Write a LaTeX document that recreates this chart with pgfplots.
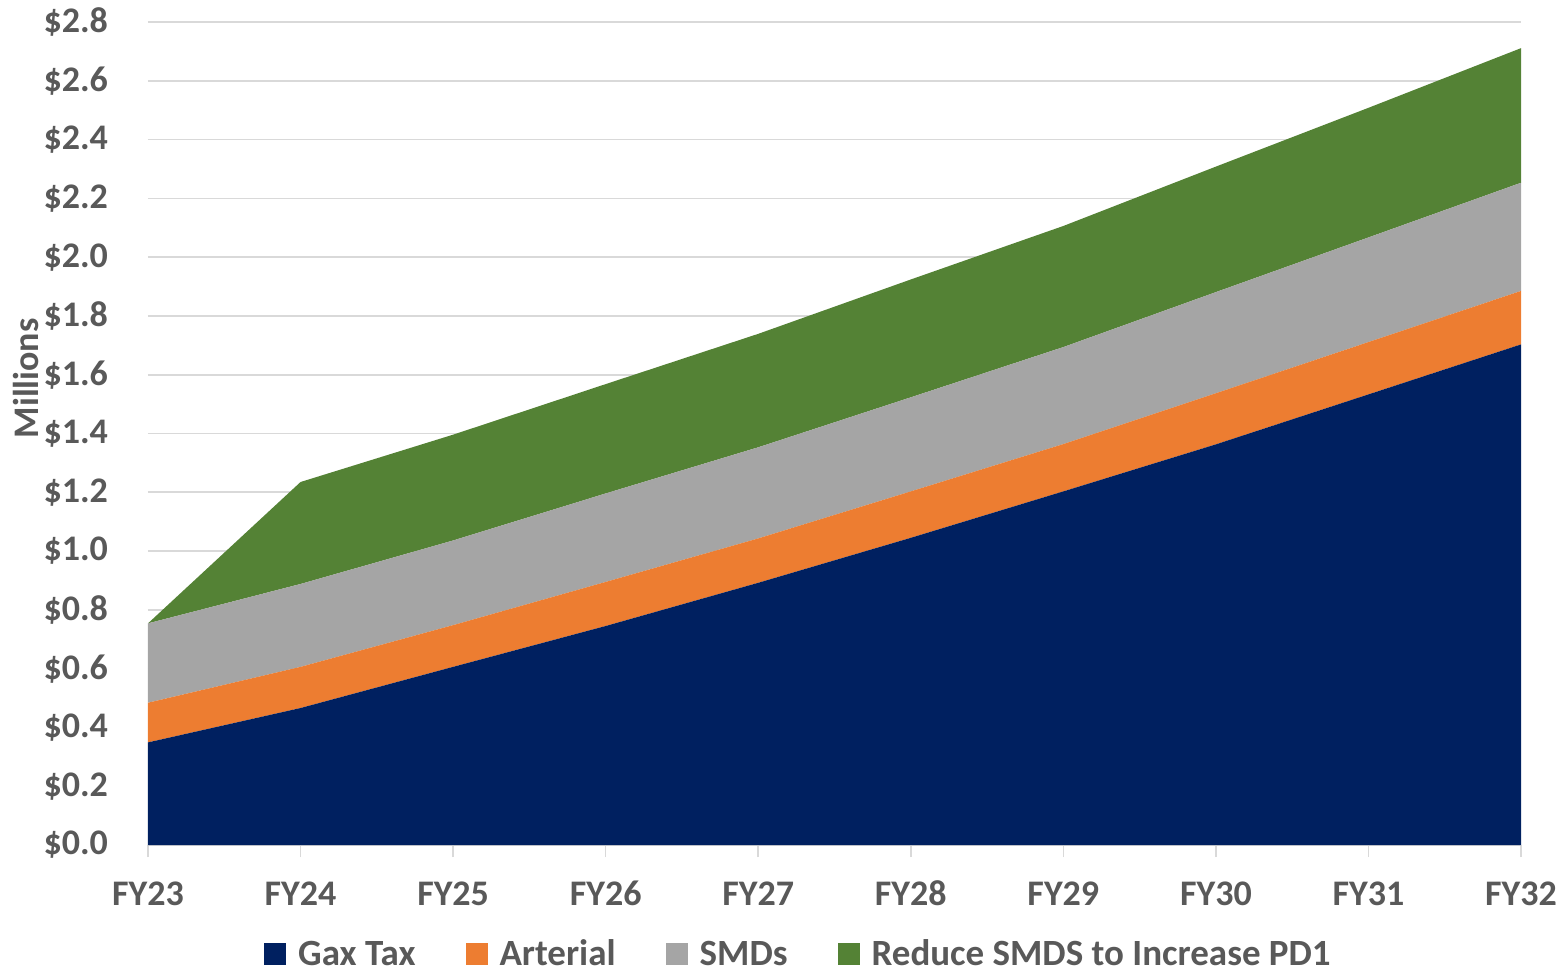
\documentclass[border=0pt]{standalone}
\usepackage{fontspec}
\setmainfont{Carlito}
\usepackage{pgfplots}
\pgfplotsset{compat=1.18}
\usetikzlibrary{calc}

\definecolor{navy}{HTML}{002060}
\definecolor{orng}{HTML}{ED7D31}
\definecolor{gry}{HTML}{A5A5A5}
\definecolor{grn}{HTML}{548235}
\definecolor{txt}{HTML}{595959}
\definecolor{gridgray}{HTML}{D9D9D9}

\begin{document}
\begin{tikzpicture}
\begin{axis}[
  name=ax,
  scale only axis,
  width=686.5pt, height=411.5pt,
  xmin=0, xmax=9, ymin=0, ymax=2.8,
  stack plots=y,
  area style,
  axis on top=false,
  xtick={0,...,9},
  xticklabels={FY23,FY24,FY25,FY26,FY27,FY28,FY29,FY30,FY31,FY32},
  ytick={0,0.2,...,2.81},
  yticklabel={\$\pgfmathprintnumber[fixed,fixed zerofill,precision=1]{\tick}},
  /pgf/number format/assume math mode=true,
  tick label style={font=\bfseries\fontsize{18}{20}\selectfont, text=txt},
  yticklabel style={anchor=east, xshift=-10.5pt},
  xticklabel style={anchor=north, yshift=-8pt, text height=12.5pt, text depth=0pt},
  ymajorgrids,
  grid style={draw=gridgray, line width=0.8pt},
  axis x line*=bottom,
  axis y line*=left,
  y axis line style={draw=none},
  x axis line style={draw=gridgray, line width=0.8pt, -},
  xtick style={draw=gridgray, line width=0.8pt},
  ytick style={draw=none},
  tick align=outside,
  major tick length=6pt,
  ylabel={Millions},
  ylabel style={font=\bfseries\fontsize{18}{20}\selectfont, text=txt, at={(rel axis cs:0,0.567)}, anchor=south, yshift=51pt},
  legend columns=4,
  legend style={at={(rel axis cs:0.4745,-0.133)}, anchor=center, draw=none, fill=none,
    font=\bfseries\fontsize{18.5}{20}\selectfont, text=txt, inner sep=0pt,
    /tikz/every odd column/.append style={column sep=4pt},
    /tikz/every even column/.append style={column sep=23pt}},
  legend image code/.code={\fill[#1] (0pt,-5.5pt) rectangle (11pt,5.5pt);},
]
% Gas tax
\addplot[fill=navy, draw=none] coordinates {
  (0,0.349) (1,0.466) (2,0.606) (3,0.745) (4,0.892)
  (5,1.045) (6,1.203) (7,1.363) (8,1.533) (9,1.703)} \closedcycle;
% Arterial
\addplot[fill=orng, draw=none] coordinates {
  (0,0.135) (1,0.140) (2,0.142) (3,0.150) (4,0.151)
  (5,0.158) (6,0.161) (7,0.174) (8,0.178) (9,0.182)} \closedcycle;
% SMDs
\addplot[fill=gry, draw=none] coordinates {
  (0,0.270) (1,0.282) (2,0.288) (3,0.301) (4,0.310)
  (5,0.320) (6,0.330) (7,0.344) (8,0.356) (9,0.368)} \closedcycle;
% Reduce SMDS to increase PD1
\addplot[fill=grn, draw=none] coordinates {
  (0,0.000) (1,0.347) (2,0.360) (3,0.372) (4,0.386)
  (5,0.401) (6,0.412) (7,0.427) (8,0.441) (9,0.458)} \closedcycle;
\legend{Gax Tax, Arterial, SMDs, Reduce SMDS to Increase PD1}
\end{axis}
\pgfresetboundingbox
\path ($(ax.south west)+(-74pt,-64pt)$) rectangle ($(ax.north east)+(20.5pt,11pt)$);
\end{tikzpicture}
\end{document}
